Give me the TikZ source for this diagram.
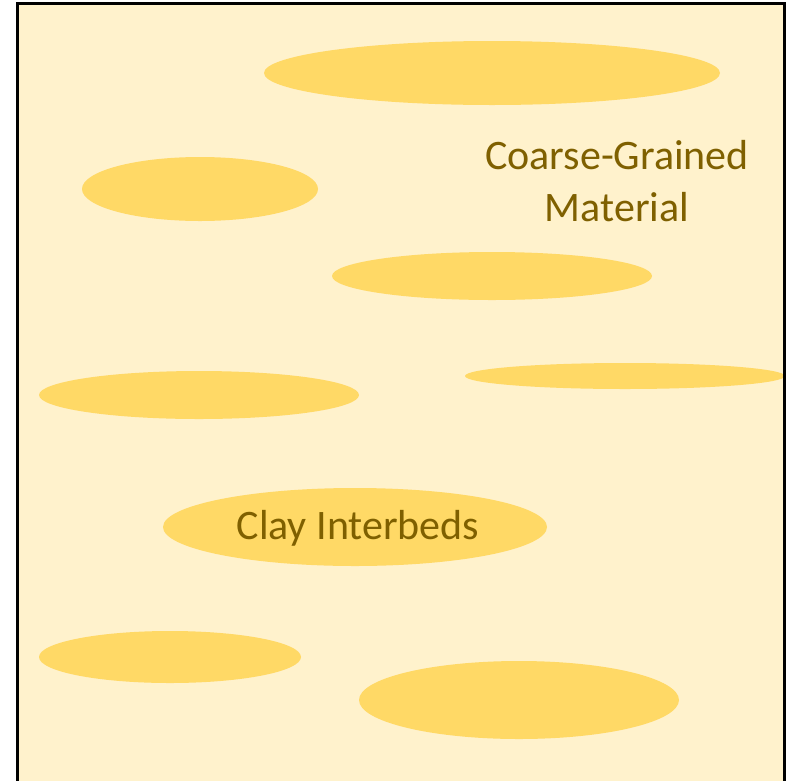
\documentclass[tikz,border=0pt]{standalone}
\usepackage{fontspec}
\setmainfont{Carlito}
\definecolor{bgfill}{HTML}{FFF2CC}
\definecolor{lensfill}{HTML}{FFD966}
\definecolor{txt}{HTML}{7F6000}
\tikzset{
  lens/.style={fill=lensfill, draw=none},
  lbl/.style={text=txt, font=\fontsize{42}{52}\selectfont, align=center, inner sep=0pt},
}
\begin{document}
\begin{tikzpicture}[x=1pt,y=-1pt]
\useasboundingbox (0,0) rectangle (790,780);
\clip (0,0) rectangle (790,780);
\fill[bgfill] (17,3) rectangle (784,800);
\fill[lens] (492,73) ellipse [x radius=228, y radius=32];
\fill[lens] (200,189) ellipse [x radius=118, y radius=32];
\fill[lens] (492,276) ellipse [x radius=160, y radius=24];
\fill[lens] (625,376) ellipse [x radius=160, y radius=13];
\fill[lens] (199,395) ellipse [x radius=160, y radius=24];
\fill[lens] (355,527) ellipse [x radius=192, y radius=39];
\fill[lens] (170,657) ellipse [x radius=131, y radius=26];
\fill[lens] (519,700) ellipse [x radius=160, y radius=39];
\draw[line width=3pt] (17,3) rectangle (784,800);
\node[lbl] (coarse) at (617,181) {Coarse-Grained\\Material};
\node[lbl] (clay) at (358,528) {Clay Interbeds};
\end{tikzpicture}
\end{document}
